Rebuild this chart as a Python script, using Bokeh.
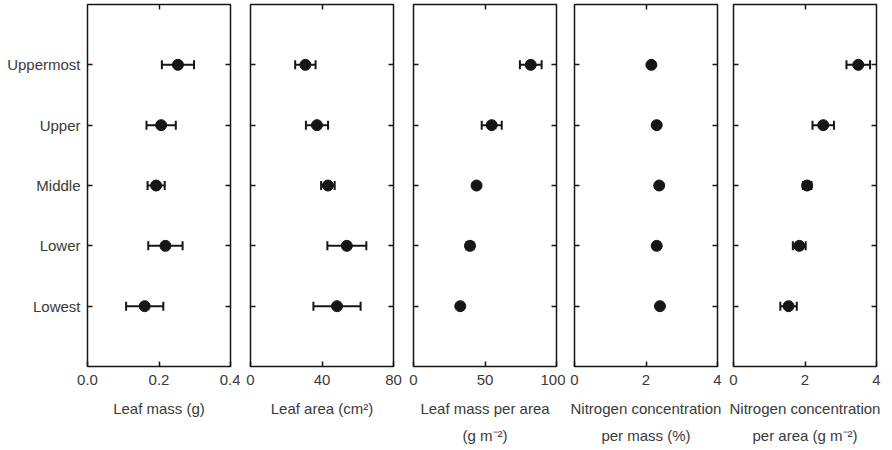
from bokeh.plotting import figure
from bokeh.layouts import row
from bokeh.models import (FactorRange, Range1d, LinearAxis, CategoricalAxis, FixedTicker,
                          Whisker, TeeHead, ColumnDataSource)
from bokeh.embed import file_html
from bokeh.resources import INLINE

# ---------------- data ----------------
categories = ["Uppermost", "Upper", "Middle", "Lower", "Lowest"]

leaf_mass = [0.253, 0.206, 0.192, 0.218, 0.160]
leaf_mass_err = [0.045, 0.041, 0.024, 0.048, 0.052]

leaf_area = [30.7, 37.2, 43.3, 53.9, 48.4]
leaf_area_err = [5.7, 6.2, 3.8, 10.9, 13.2]

lma = [82.0, 54.7, 44.1, 39.5, 32.7]
lma_err = [7.6, 7.0, 1.5, 2.5, 1.5]

n_mass = [2.15, 2.30, 2.37, 2.30, 2.39]
n_mass_err = [0.05, 0.05, 0.05, 0.08, 0.06]

n_area = [3.49, 2.51, 2.06, 1.84, 1.54]
n_area_err = [0.33, 0.30, 0.12, 0.18, 0.23]

ticks_mass = [0, 0.2, 0.4]
tick_labels_mass = ["0.0", "0.2", "0.4"]
ticks_area = [0, 40, 80]
tick_labels_area = ["0", "40", "80"]
ticks_lma = [0, 50, 100]
tick_labels_lma = ["0", "50", "100"]
ticks_n = [0, 2, 4]
tick_labels_n = ["0", "2", "4"]

panels = [
    dict(mean=leaf_mass, err=leaf_mass_err, ticks=ticks_mass, labels=tick_labels_mass,
         l1="Leaf mass (g)", l2=""),
    dict(mean=leaf_area, err=leaf_area_err, ticks=ticks_area, labels=tick_labels_area,
         l1="Leaf area (cm\u00b2)", l2=""),
    dict(mean=lma, err=lma_err, ticks=ticks_lma, labels=tick_labels_lma,
         l1="Leaf mass per area", l2="(g m\u207b\u00b2)"),
    dict(mean=n_mass, err=n_mass_err, ticks=ticks_n, labels=tick_labels_n,
         l1="Nitrogen concentration", l2="per mass (%)"),
    dict(mean=n_area, err=n_area_err, ticks=ticks_n, labels=tick_labels_n,
         l1="Nitrogen concentration", l2="per area (g m\u207b\u00b2)"),
]

# ---------------- style ----------------
FONT = "Liberation Sans"
TXT = "#3a3a3a"
INK = "#161616"
borders = [(87, 10), (10, 10), (10, 9), (9, 8), (8, 16)]

figs = []
for i, (pd_, (bl, br)) in enumerate(zip(panels, borders)):
    p = figure(frame_width=143, frame_height=362,
               x_range=Range1d(pd_["ticks"][0], pd_["ticks"][-1]),
               y_range=FactorRange(factors=categories[::-1], range_padding=0.5,
                                   range_padding_units="absolute"),
               output_backend="svg", toolbar_location=None,
               min_border=0, min_border_left=bl, min_border_right=br,
               min_border_top=4, min_border_bottom=84,
               background_fill_color="white", border_fill_color="white",
               outline_line_color=INK, outline_line_width=1.5)
    p.xgrid.visible = False
    p.ygrid.visible = False

    # bottom axis with tick labels + first label line
    xa = p.xaxis[0]
    xa.ticker = FixedTicker(ticks=pd_["ticks"])
    xa.major_label_overrides = {t: l for t, l in zip(pd_["ticks"], pd_["labels"])}
    xa.major_tick_in = 5
    xa.major_tick_out = 0
    xa.major_tick_line_color = INK
    xa.major_tick_line_width = 1.5
    xa.minor_tick_line_color = None
    xa.axis_line_color = None
    xa.major_label_standoff = 8
    xa.major_label_text_font = FONT
    xa.major_label_text_font_size = "15px"
    xa.major_label_text_color = TXT
    xa.axis_label = pd_["l1"]
    xa.axis_label_standoff = 12
    xa.axis_label_text_font = FONT
    xa.axis_label_text_font_size = "15px"
    xa.axis_label_text_font_style = "normal"
    xa.axis_label_text_color = TXT

    # second label line
    xb = LinearAxis(ticker=FixedTicker(ticks=[]), axis_line_color=None,
                    major_tick_line_color=None, minor_tick_line_color=None,
                    major_label_standoff=0, major_label_text_font_size="1px",
                    major_label_text_color=None,
                    axis_label=pd_["l2"] if pd_["l2"] else None,
                    axis_label_standoff=7, axis_label_text_font=FONT,
                    axis_label_text_font_size="15px", axis_label_text_font_style="normal",
                    axis_label_text_color=TXT)
    p.add_layout(xb, "below")

    # top ticks
    xt = LinearAxis(ticker=FixedTicker(ticks=[pd_["ticks"][1]]), axis_line_color=None,
                    major_tick_in=5, major_tick_out=0, major_tick_line_color=INK,
                    major_tick_line_width=1.5, minor_tick_line_color=None,
                    major_label_text_font_size="1px", major_label_text_color=None,
                    major_label_standoff=0)
    p.add_layout(xt, "above")

    # left axis
    ya = p.yaxis[0]
    ya.major_tick_in = 5
    ya.major_tick_out = 0
    ya.major_tick_line_color = INK
    ya.major_tick_line_width = 1.5
    ya.axis_line_color = None
    if i == 0:
        ya.major_label_standoff = 7
        ya.major_label_text_font = FONT
        ya.major_label_text_font_size = "15px"
        ya.major_label_text_color = TXT
    else:
        ya.major_label_standoff = 0
        ya.major_label_text_font_size = "1px"
        ya.major_label_text_color = None

    # right axis ticks
    yr = CategoricalAxis(axis_line_color=None, major_tick_in=5, major_tick_out=0,
                         major_tick_line_color=INK, major_tick_line_width=1.5,
                         major_label_text_font_size="1px", major_label_text_color=None,
                         major_label_standoff=0)
    p.add_layout(yr, "right")

    src = ColumnDataSource(dict(
        y=categories, x=pd_["mean"],
        lower=[m - e for m, e in zip(pd_["mean"], pd_["err"])],
        upper=[m + e for m, e in zip(pd_["mean"], pd_["err"])]))
    w = Whisker(base="y", lower="lower", upper="upper", dimension="width", source=src,
                line_color=INK, line_width=2,
                lower_head=TeeHead(size=9, line_width=2, line_color=INK),
                upper_head=TeeHead(size=9, line_width=2, line_color=INK))
    p.add_layout(w)
    p.scatter("x", "y", source=src, size=11, fill_color=INK, line_color=INK)
    figs.append(p)

layout = row(*figs)
open("out.html", "w").write(file_html(layout, INLINE))
